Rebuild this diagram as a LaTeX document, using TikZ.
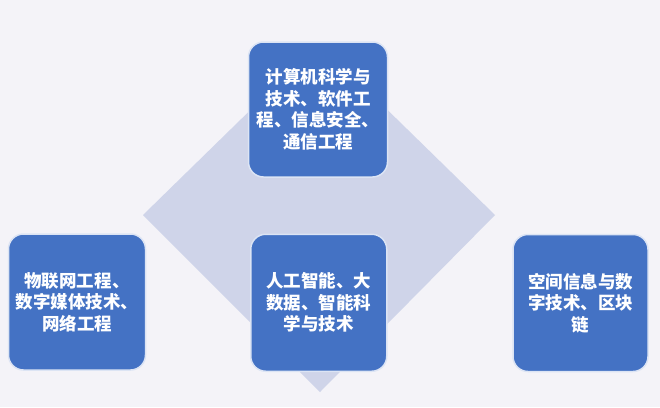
\documentclass[tikz,border=0pt]{standalone}
\usepackage{fontspec}
\newfontfamily\cjk{Noto Sans CJK SC}
\definecolor{bgc}{HTML}{F4F3F8}
\definecolor{dia}{HTML}{CFD4E9}
\definecolor{boxc}{HTML}{4472C4}
\definecolor{boxe}{HTML}{DCE4F4}
\tikzset{
  cbox/.style={draw=boxe, line width=1.5pt, fill=boxc, rounded corners=15pt,
    text=white, align=center, inner sep=0pt,
    font=\cjk\bfseries\fontsize{17.5}{21.5}\selectfont},
}
\begin{document}
\begin{tikzpicture}[x=1pt,y=-1pt]
\fill[bgc] (0,0) rectangle (660,407);
\useasboundingbox (0,0) rectangle (660,407);
\fill[dia] (143,215) -- (319,43) -- (495,215) -- (320,392) -- cycle;
\node[cbox, minimum width=139pt, minimum height=135pt] (top) at (318,109.5)
  {计算机科学与\\技术、软件工\\程、信息安全、\\通信工程};
\node[cbox, minimum width=137pt, minimum height=136pt] (left) at (77,302)
  {物联网工程、\\数字媒体技术、\\网络工程};
\node[cbox, minimum width=136pt, minimum height=137pt] (mid) at (318.75,302.75)
  {人工智能、大\\数据、智能科\\学与技术};
\node[cbox, minimum width=135pt, minimum height=137pt] (right) at (580.5,303)
  {空间信息与数\\字技术、区块\\链};
\end{tikzpicture}
\end{document}
